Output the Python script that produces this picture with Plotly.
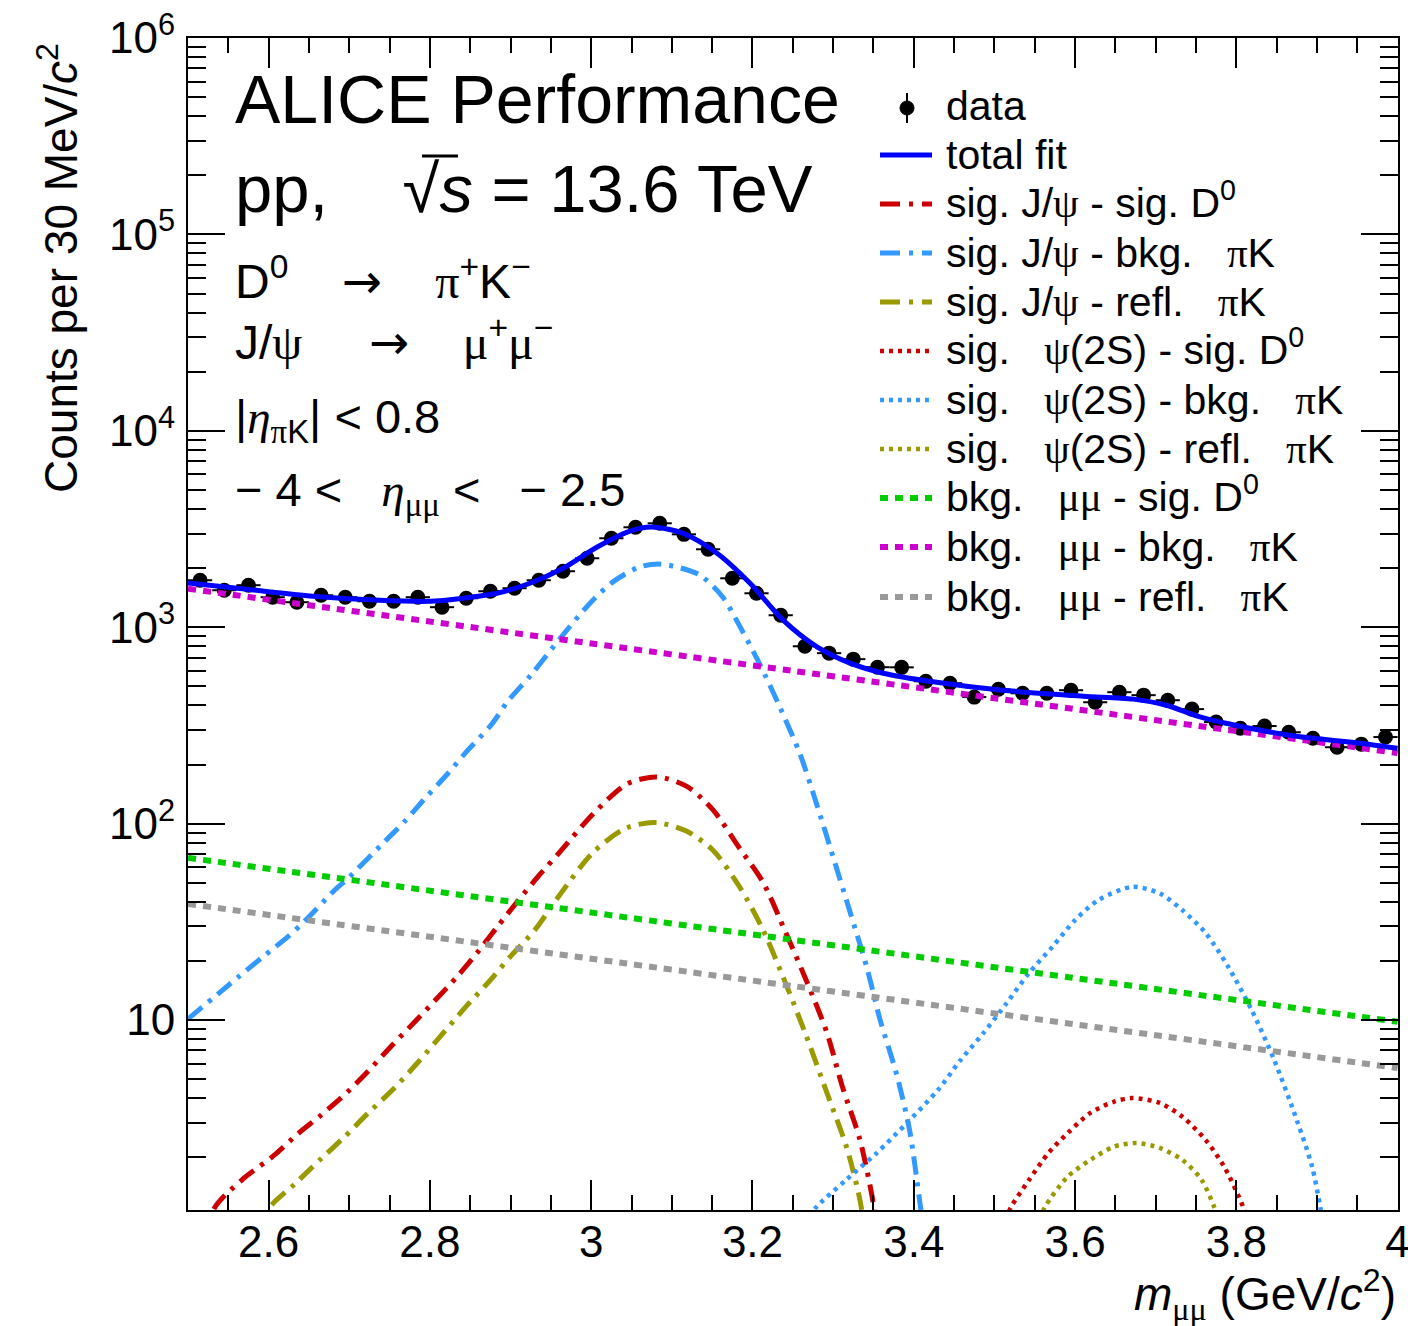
import numpy as np
import plotly.graph_objects as go

# ---------------- data ----------------
mass_centers = [2.515, 2.545, 2.575, 2.605, 2.635, 2.665, 2.695, 2.725, 2.755, 2.785,
                2.815, 2.845, 2.875, 2.905, 2.935, 2.965, 2.995, 3.025, 3.055, 3.085,
                3.115, 3.145, 3.175, 3.205, 3.235, 3.265, 3.295, 3.325, 3.355, 3.385,
                3.415, 3.445, 3.475, 3.505, 3.535, 3.565, 3.595, 3.625, 3.655, 3.685,
                3.715, 3.745, 3.775, 3.805, 3.835, 3.865, 3.895, 3.925, 3.955, 3.985]
counts = [1735, 1543, 1637, 1422, 1341, 1455, 1422, 1356, 1356, 1422,
          1265, 1405, 1525, 1580, 1735, 1928, 2245, 2838, 3228, 3383,
          2972, 2494, 1775, 1489, 1151, 800, 738, 688, 626, 625,
          531, 519, 441, 483, 461, 461, 478, 415, 467, 451,
          425, 383, 329, 306, 314, 292, 272, 245, 254, 276]
half_bin = [0.015] * len(mass_centers)

# fit curves (log10 of counts)
total_m = [2.500, 2.573, 2.655, 2.738, 2.800, 2.841, 2.883, 2.924, 2.965, 3.007,
           3.048, 3.075, 3.114, 3.156, 3.197, 3.238, 3.280, 3.321, 3.362, 3.424,
           3.507, 3.610, 3.672, 3.713, 3.755, 3.817, 3.879, 3.941, 4.000]
total_log = [3.225, 3.193, 3.158, 3.137, 3.132, 3.148, 3.173, 3.224, 3.300, 3.407,
             3.489, 3.510, 3.478, 3.377, 3.224, 3.036, 2.900, 2.817, 2.766, 2.722,
             2.680, 2.649, 2.634, 2.603, 2.544, 2.486, 2.442, 2.416, 2.384]

jpsi_bkg_m = [2.500, 2.562, 2.595, 2.624, 2.645, 2.682, 2.698, 2.740, 2.769, 2.793,
              2.822, 2.847, 2.876, 2.897, 2.926, 2.961, 2.998, 3.027, 3.060, 3.083,
              3.106, 3.135, 3.163, 3.184, 3.209, 3.234, 3.259, 3.280, 3.300, 3.321,
              3.342, 3.358, 3.379, 3.395, 3.407, 3.416]
jpsi_bkg_log = [1.006, 1.218, 1.329, 1.425, 1.505, 1.662, 1.720, 1.893, 2.013, 2.124,
                2.254, 2.374, 2.503, 2.625, 2.760, 2.941, 3.120, 3.231, 3.307, 3.322,
                3.307, 3.265, 3.154, 3.007, 2.812, 2.593, 2.354, 2.094, 1.830, 1.550,
                1.265, 1.005, 0.720, 0.435, 0.089, -0.180]

jpsi_sig_m = [2.520, 2.533, 2.566, 2.607, 2.636, 2.665, 2.698, 2.723, 2.752, 2.781,
              2.806, 2.835, 2.860, 2.884, 2.909, 2.934, 2.961, 3.002, 3.044, 3.081,
              3.118, 3.151, 3.184, 3.213, 3.242, 3.267, 3.292, 3.312, 3.333, 3.348, 3.356]
jpsi_sig_log = [-0.150, 0.044, 0.183, 0.312, 0.420, 0.516, 0.635, 0.738, 0.867, 0.990,
                1.098, 1.227, 1.350, 1.477, 1.606, 1.730, 1.855, 2.048, 2.201, 2.238,
                2.191, 2.070, 1.875, 1.702, 1.438, 1.199, 0.939, 0.654, 0.394, 0.109, -0.120]

jpsi_refl_m = [2.588, 2.601, 2.632, 2.665, 2.694, 2.723, 2.756, 2.785, 2.814, 2.843,
               2.872, 2.901, 2.930, 2.958, 3.002, 3.044, 3.081, 3.118, 3.151, 3.184,
               3.213, 3.242, 3.267, 3.292, 3.317, 3.333, 3.341]
jpsi_refl_log = [-0.120, 0.044, 0.164, 0.294, 0.405, 0.525, 0.654, 0.784, 0.922, 1.061,
                 1.190, 1.329, 1.458, 1.620, 1.852, 1.979, 2.005, 1.962, 1.865, 1.678,
                 1.460, 1.178, 0.916, 0.633, 0.349, 0.089, -0.120]

psi2s_bkg_m = [3.265, 3.278, 3.316, 3.354, 3.391, 3.430, 3.458, 3.486, 3.515, 3.543,
               3.572, 3.600, 3.629, 3.671, 3.705, 3.733, 3.762, 3.790, 3.819, 3.847,
               3.875, 3.894, 3.904, 3.912]
psi2s_bkg_log = [-0.040, 0.042, 0.186, 0.323, 0.474, 0.644, 0.796, 0.932, 1.085, 1.240,
                 1.373, 1.509, 1.611, 1.678, 1.645, 1.560, 1.443, 1.271, 1.051, 0.796,
                 0.491, 0.253, 0.050, -0.150]

psi2s_sig_m = [3.510, 3.520, 3.543, 3.567, 3.591, 3.619, 3.648, 3.671, 3.705, 3.733,
               3.762, 3.785, 3.809, 3.816]
psi2s_sig_log = [-0.060, 0.043, 0.186, 0.323, 0.425, 0.527, 0.584, 0.603, 0.578, 0.508,
                 0.389, 0.253, 0.043, -0.060]

psi2s_refl_m = [3.553, 3.562, 3.591, 3.619, 3.648, 3.676, 3.705, 3.733, 3.757, 3.773, 3.780]
psi2s_refl_log = [-0.060, 0.043, 0.203, 0.288, 0.355, 0.374, 0.349, 0.288, 0.186, 0.043, -0.060]

bkg_m = [2.50, 3.25, 4.00]
bkg_bkg = [1570, 600, 229]
bkg_sig = [67.0, 25.6, 9.8]
bkg_refl = [39.0, 14.9, 5.7]

x_tickvals = [2.6, 2.8, 3.0, 3.2, 3.4, 3.6, 3.8, 4.0]
x_ticktext = ["2.6", "2.8", "3", "3.2", "3.4", "3.6", "3.8", "4"]
y_tickvals = [1e1, 1e2, 1e3, 1e4, 1e5, 1e6]
y_ticktext = ["10", "10<sup>2</sup>", "10<sup>3</sup>", "10<sup>4</sup>", "10<sup>5</sup>", "10<sup>6</sup>"]

# ---------------- style ----------------
SANS = "Liberation Sans"
SERIF = "Liberation Serif"
RED, AZURE, OLIVE = "#cc0000", "#3399ff", "#999900"
GREEN, MAGENTA, GRAY, BLUE = "#00cc00", "#cc00cc", "#999999", "#0000ff"
DASHDOT = "18px,8px,4px,8px"
DOT = "4px,5px"
DASH = "8px,7px"
NB = "\u00a0"

W, H = 1408, 1326
L, R, T, B = 188, 10, 38, 116
PW, PH = W - L - R, H - T - B


def px(X):
    return (X - L) / PW


def py(Y):
    return (H - B - Y) / PH


def gr(s):
    return f'<span style="font-family:{SERIF}">{s}</span>'


def tolin(a):
    return [10 ** v for v in a]


fig = go.Figure()

fig.add_trace(go.Scatter(
    x=mass_centers, y=counts, mode="markers",
    marker=dict(color="black", size=15),
    error_x=dict(type="data", array=half_bin, thickness=2, width=0, color="black"),
    error_y=dict(type="data", array=list(np.sqrt(counts)), thickness=2, width=0, color="black"),
    showlegend=False))

curves = [
    (jpsi_bkg_m, tolin(jpsi_bkg_log), AZURE, 5, DASHDOT),
    (jpsi_sig_m, tolin(jpsi_sig_log), RED, 5, DASHDOT),
    (jpsi_refl_m, tolin(jpsi_refl_log), OLIVE, 5, DASHDOT),
    (psi2s_bkg_m, tolin(psi2s_bkg_log), AZURE, 4.5, DOT),
    (psi2s_sig_m, tolin(psi2s_sig_log), RED, 4.5, DOT),
    (psi2s_refl_m, tolin(psi2s_refl_log), OLIVE, 4.5, DOT),
    (bkg_m, bkg_sig, GREEN, 6, DASH),
    (bkg_m, bkg_refl, GRAY, 6, DASH),
    (bkg_m, bkg_bkg, MAGENTA, 6, DASH),
]
for xm, yv, col, wdt, dsh in curves:
    fig.add_trace(go.Scatter(x=xm, y=yv, mode="lines",
                             line=dict(color=col, width=wdt, dash=dsh, shape="spline", smoothing=0.8),
                             showlegend=False, hoverinfo="skip"))

fig.add_trace(go.Scatter(x=total_m, y=tolin(total_log), mode="lines",
                         line=dict(color=BLUE, width=5, shape="spline", smoothing=0.8),
                         showlegend=False, hoverinfo="skip"))

# ---------------- texts ----------------
annotations = []


def ann(text, X, Y, size, xanchor="left", yanchor="middle", **kw):
    annotations.append(dict(text=text, x=px(X), y=py(Y), xref="paper", yref="paper",
                            showarrow=False, xanchor=xanchor, yanchor=yanchor,
                            font=dict(size=size, family=SANS, color="black"), **kw))


ARROW = '<span style="font-family:DejaVu Sans">→</span>'
ann("ALICE Performance", 233, 99, 68)
ann("pp," + NB * 4 + "√<i>s</i> = 13.6 TeV", 233, 189, 67)
ann("D<sup>0</sup>" + NB * 4 + ARROW + NB * 4 + gr("π") + "<sup>+</sup>K<sup>−</sup>", 233, 278, 48)
ann("J/" + gr("ψ") + NB * 5 + ARROW + NB * 4 + gr("μ") + "<sup>+</sup>" + gr("μ") + "<sup>−</sup>", 233, 340, 48)
ann("|" + gr("<i>η</i>") + "<sub>" + gr("π") + "K</sub>| &lt; 0.8", 233, 420, 47)
ann("− 4 &lt;" + NB * 3 + gr("<i>η</i>") + "<sub>" + gr("μμ") + "</sub>" + NB + "&lt;" + NB * 3 + "− 2.5",
    233, 493, 47)

# axis titles
ann("<i>m</i><sub>" + gr("μμ") + "</sub> (GeV/<i>c</i><sup>2</sup>)", 1398, 1294, 46, xanchor="right")
ann("Counts per 30 MeV/<i>c</i><sup>2</sup>", 58, 268, 46, xanchor="center", textangle=-90)

# ---------------- hand-made legend ----------------
rows = [106, 155, 204, 253, 302, 351, 400, 449, 498, 547, 597]
leg_text = [
    "data",
    "total fit",
    "sig. J/" + gr("ψ") + " - sig. D<sup>0</sup>",
    "sig. J/" + gr("ψ") + " - bkg." + NB * 3 + gr("π") + "K",
    "sig. J/" + gr("ψ") + " - refl." + NB * 3 + gr("π") + "K",
    "sig." + NB * 3 + gr("ψ") + "(2S) - sig. D<sup>0</sup>",
    "sig." + NB * 3 + gr("ψ") + "(2S) - bkg." + NB * 3 + gr("π") + "K",
    "sig." + NB * 3 + gr("ψ") + "(2S) - refl." + NB * 3 + gr("π") + "K",
    "bkg." + NB * 3 + gr("μμ") + " - sig. D<sup>0</sup>",
    "bkg." + NB * 3 + gr("μμ") + " - bkg." + NB * 3 + gr("π") + "K",
    "bkg." + NB * 3 + gr("μμ") + " - refl." + NB * 3 + gr("π") + "K",
]
has_sup = ["<sup>" in t for t in leg_text]
leg_style = [None, (BLUE, 5, "solid"),
             (RED, 5, "20px,9px,4px,9px"), (AZURE, 5, "20px,9px,4px,9px"), (OLIVE, 5, "20px,9px,4px,9px"),
             (RED, 4.5, DOT), (AZURE, 4.5, DOT), (OLIVE, 4.5, DOT),
             (GREEN, 6, DASH), (MAGENTA, 6, DASH), (GRAY, 6, DASH)]

shapes = []
for Yr, txt, st, sup in zip(rows, leg_text, leg_style, has_sup):
    ann(txt, 944, Yr - (4 if sup else 0), 41)
    if st is not None:
        col, wdt, dsh = st
        shapes.append(dict(type="line", xref="paper", yref="paper",
                           x0=px(880), x1=px(932), y0=py(Yr), y1=py(Yr),
                           line=dict(color=col, width=wdt, dash=dsh)))
# data symbol
shapes.append(dict(type="line", xref="paper", yref="paper", x0=px(907), x1=px(907),
                   y0=py(93), y1=py(123), line=dict(color="black", width=2)))
shapes.append(dict(type="circle", xref="paper", yref="paper", x0=px(900), x1=px(914),
                   y0=py(101), y1=py(115), fillcolor="black", line=dict(color="black", width=1)))
# overbar of the square root
shapes.append(dict(type="line", xref="paper", yref="paper", x0=px(422), x1=px(458),
                   y0=py(156), y1=py(156), line=dict(color="black", width=3)))

minor_y = [k * 10 ** d for d in range(0, 6) for k in range(2, 10)]

fig.update_layout(
    width=W, height=H,
    margin=dict(l=L, r=R, t=T, b=B, autoexpand=False),
    paper_bgcolor="white", plot_bgcolor="white",
    showlegend=False,
    annotations=annotations,
    shapes=shapes,
    xaxis=dict(range=[2.5, 4.0005], tickvals=x_tickvals, ticktext=x_ticktext,
               automargin=False, ticklabeloverflow="allow",
               ticks="inside", ticklen=30, tickwidth=2, tickcolor="black",
               mirror="ticks", showline=True, linecolor="black", linewidth=2,
               showgrid=False, zeroline=False,
               tickfont=dict(size=44, family=SANS, color="black"),
               ticklabelstandoff=-8,
               minor=dict(dtick=0.05, tick0=2.5, ticks="inside", ticklen=15,
                          tickwidth=2, tickcolor="black", showgrid=False)),
    yaxis=dict(type="log", range=[0.033, 6.0], tickvals=y_tickvals, ticktext=y_ticktext,
               automargin=False, ticklabeloverflow="allow",
               ticks="inside", ticklen=37, tickwidth=2, tickcolor="black",
               mirror="ticks", showline=True, linecolor="black", linewidth=2,
               showgrid=False, zeroline=False,
               tickfont=dict(size=44, family=SANS, color="black"),
               ticklabelstandoff=2,
               minor=dict(tickvals=minor_y, ticks="inside", ticklen=18,
                          tickwidth=2, tickcolor="black", showgrid=False)),
)

fig.write_html("out.html")
